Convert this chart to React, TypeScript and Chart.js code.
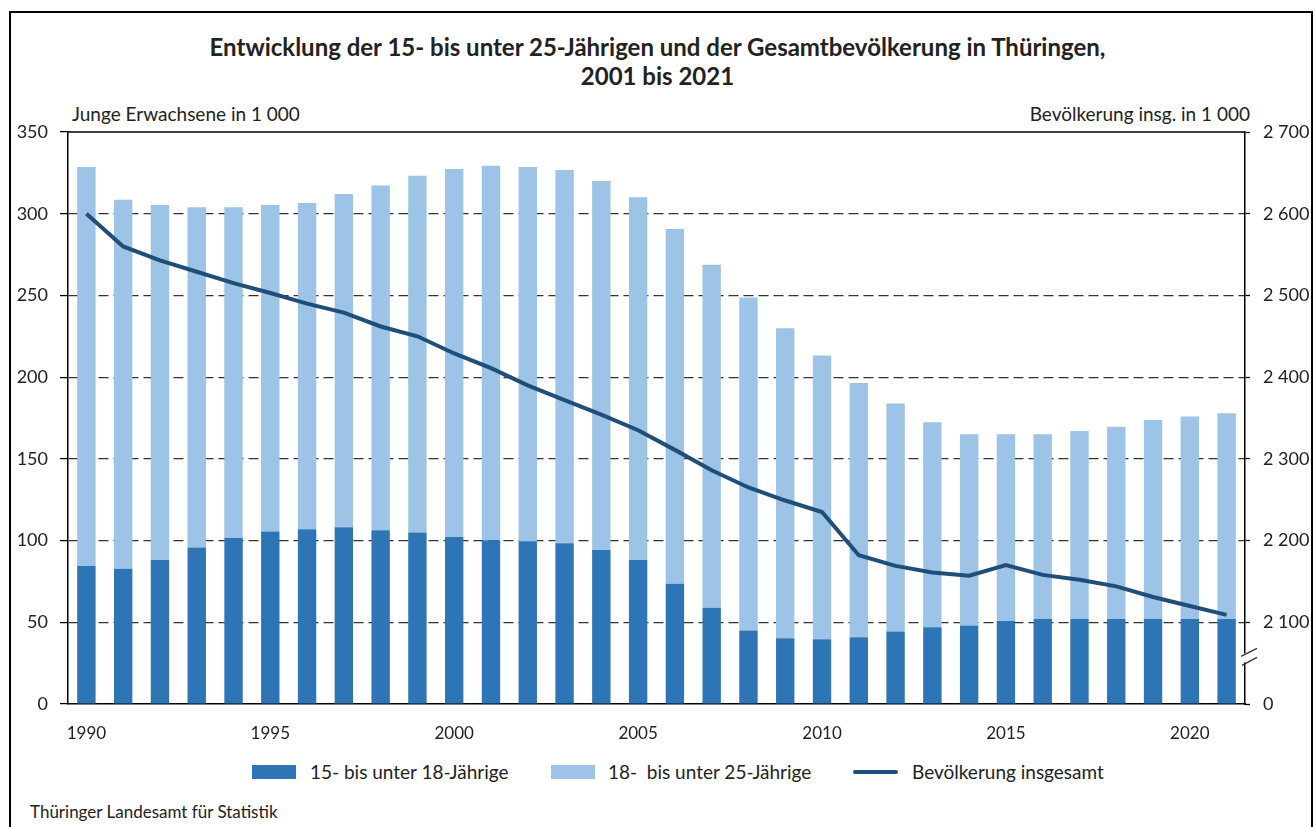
import React, { useEffect, useRef } from "react";
import { Chart, registerables } from "chart.js";

Chart.register(...registerables);

const years = [
  "1990","1991","1992","1993","1994","1995","1996","1997","1998","1999",
  "2000","2001","2002","2003","2004","2005","2006","2007","2008","2009",
  "2010","2011","2012","2013","2014","2015","2016","2017","2018","2019",
  "2020","2021",
];

// 15- bis unter 18-Jährige (in 1 000)
const age15to18 = [
  84.4, 82.8, 88.1, 95.7, 101.6, 105.5, 106.9, 108.1, 106.3, 104.9,
  102.2, 100.2, 99.6, 98.3, 94.2, 88.1, 73.6, 58.9, 44.9, 40.2,
  39.6, 40.8, 44.3, 46.9, 48.1, 50.8, 52.0, 52.0, 52.0, 52.0,
  52.0, 52.0,
];

// 18- bis unter 25-Jährige (in 1 000)
const age18to25 = [
  244.2, 225.8, 217.3, 208.3, 202.4, 199.9, 199.7, 204.0, 210.9, 218.4,
  225.2, 229.2, 229.0, 228.5, 225.8, 221.9, 217.1, 209.8, 203.8, 189.7,
  173.6, 155.6, 139.5, 125.5, 116.9, 114.2, 113.0, 115.0, 117.7, 121.8,
  123.9, 125.9,
];

// Bevölkerung insgesamt (in 1 000)
const population = [
  2600, 2560, 2543, 2529, 2515, 2503, 2490, 2479, 2462, 2450,
  2429, 2411, 2390, 2372, 2354, 2335, 2311, 2286, 2265, 2249,
  2235, 2182, 2169, 2161, 2157, 2170, 2158, 2152, 2144, 2131,
  2120, 2109,
];

const leftTicks = [0, 50, 100, 150, 200, 250, 300, 350];
const rightTicks = [2000, 2100, 2200, 2300, 2400, 2500, 2600, 2700];

const titleLines = [
  "Entwicklung der 15- bis unter 25-Jährigen und der Gesamtbevölkerung in Thüringen,",
  "2001 bis 2021",
];
const leftAxisTitle = "Junge Erwachsene in 1 000";
const rightAxisTitle = "Bevölkerung insg. in 1 000";
const seriesNames = ["15- bis unter 18-Jährige", "18-  bis unter 25-Jährige", "Bevölkerung insgesamt"];
const sourceText = "Thüringer Landesamt für Statistik";

const DARK = "#2e75b6";
const LIGHT = "#9dc3e6";
const NAVY = "#1f4e79";
const FONT = "Lato, 'Open Sans', sans-serif";
const TEXT = "#222";

const fmt = (v: number) => {
  const s = String(v);
  return s.length > 3 ? s.slice(0, s.length - 3) + " " + s.slice(-3) : s;
};

const zeroPad = (s: any) => {
  s.paddingTop = 0;
  s.paddingBottom = 0;
  s.paddingLeft = 0;
  s.paddingRight = 0;
};

const decorPlugin = {
  id: "decor",
  afterDraw(chart: any) {
    const { ctx, chartArea } = chart;
    ctx.save();
    // top solid border line (with left/right tick stubs)
    ctx.strokeStyle = "#000";
    ctx.lineWidth = 1.5;
    ctx.beginPath();
    ctx.moveTo(chartArea.left, chartArea.top);
    ctx.lineTo(chartArea.right, chartArea.top);
    ctx.stroke();
    // axis break marker on right axis
    const x = chartArea.right;
    const yb = chart.scales.y1.getPixelForValue(2057);
    ctx.fillStyle = "#fff";
    ctx.fillRect(x - 2, yb - 4, 4, 9);
    ctx.strokeStyle = "#333";
    ctx.lineWidth = 1.3;
    ctx.beginPath();
    ctx.moveTo(x - 4, yb - 1);
    ctx.lineTo(x + 12, yb - 9);
    ctx.moveTo(x - 3, yb + 8);
    ctx.lineTo(x + 12, yb);
    ctx.stroke();
    ctx.restore();
  },
};

function ChartCanvas() {
  const ref = useRef<HTMLCanvasElement | null>(null);
  useEffect(() => {
    if (!ref.current) return;
    const chart = new Chart(ref.current, {
      type: "bar",
      data: {
        labels: years,
        datasets: [
          {
            type: "bar",
            label: seriesNames[0],
            data: age15to18,
            backgroundColor: DARK,
            yAxisID: "y",
            stack: "s",
            order: 2,
            barPercentage: 0.5,
            categoryPercentage: 1,
          },
          {
            type: "bar",
            label: seriesNames[1],
            data: age18to25,
            backgroundColor: LIGHT,
            yAxisID: "y",
            stack: "s",
            order: 2,
            barPercentage: 0.5,
            categoryPercentage: 1,
          },
          {
            type: "line",
            label: seriesNames[2],
            data: population,
            borderColor: NAVY,
            backgroundColor: NAVY,
            borderWidth: 4,
            pointRadius: 0,
            tension: 0,
            yAxisID: "y1",
            order: 0,
          } as any,
        ],
      },
      options: {
        responsive: false,
        animation: false,
        layout: { padding: { top: 12, bottom: 0, left: 0, right: 0 } },
        plugins: {
          legend: { display: false },
          tooltip: { enabled: false },
          title: { display: false },
        },
        scales: {
          x: {
            stacked: true,
            grid: { display: false, drawTicks: false },
            border: { display: true, color: "#000", width: 1.5 },
            ticks: {
              autoSkip: false,
              maxRotation: 0,
              padding: 19,
              color: TEXT,
              font: { family: FONT, size: 17 },
              callback: (_v: any, i: number) => (Number(years[i]) % 5 === 0 ? years[i] : ""),
            },
            afterFit: (s: any) => {
              s.height = 56;
              zeroPad(s);
            },
          },
          y: {
            position: "left",
            stacked: true,
            min: 0,
            max: 350,
            afterBuildTicks: (s: any) => {
              s.ticks = leftTicks.map((v) => ({ value: v }));
            },
            grid: {
              color: (c: any) =>
                c.tick && (c.tick.value === 0 || c.tick.value === 350) ? "rgba(0,0,0,0)" : "#333",
              lineWidth: 1.2,
              tickLength: 8,
              tickColor: "#000",
              tickWidth: 1.3,
              tickBorderDash: [],
            } as any,
            border: { display: true, color: "#000", width: 1.5, dash: [10, 5] } as any,
            ticks: {
              padding: 12,
              color: TEXT,
              font: { family: FONT, size: 18 },
              callback: (v: any) => fmt(Number(v)),
            },
            afterFit: (s: any) => {
              s.width = 68;
              zeroPad(s);
            },
          },
          y1: {
            position: "right",
            min: 2000,
            max: 2700,
            afterBuildTicks: (s: any) => {
              s.ticks = rightTicks.map((v) => ({ value: v }));
            },
            grid: {
              drawOnChartArea: false,
              tickLength: 5,
              tickColor: "#000",
              tickWidth: 1.3,
              color: "#000",
            },
            border: { display: true, color: "#000", width: 1.5 },
            ticks: {
              padding: 13,
              color: TEXT,
              font: { family: FONT, size: 18 },
              callback: (v: any) => (Number(v) === 2000 ? "0" : fmt(Number(v))),
            },
            afterFit: (s: any) => {
              s.width = 70;
              zeroPad(s);
            },
          },
        },
      },
      plugins: [decorPlugin],
    });
    return () => chart.destroy();
  }, []);
  return (
    <canvas
      ref={ref}
      width={1315}
      height={640}
      style={{ position: "absolute", left: 0, top: 120, width: 1315, height: 640 }}
    />
  );
}

export default function App() {
  useEffect(() => {
    document.body.style.margin = "0";
  }, []);
  const textBase: React.CSSProperties = {
    position: "absolute",
    fontFamily: FONT,
    color: TEXT,
    whiteSpace: "nowrap",
  };
  return (
    <div style={{ position: "relative", width: 1315, height: 827, overflow: "hidden", background: "#fff" }}>
      <div
        style={{
          position: "absolute",
          left: 9,
          top: 11,
          width: 1304,
          height: 900,
          borderTop: "2px solid #000",
          borderLeft: "2px solid #000",
          borderRight: "2px solid #000",
          boxSizing: "border-box",
        }}
      />
      <div
        style={{
          ...textBase,
          left: 0,
          top: 32,
          width: 1315,
          textAlign: "center",
          fontWeight: 700,
          fontSize: 24,
          lineHeight: "29px",
        }}
      >
        {titleLines.map((t, i) => (
          <div key={i}>{t}</div>
        ))}
      </div>
      <div style={{ ...textBase, left: 72, top: 102, fontSize: 19, lineHeight: "24px" }}>{leftAxisTitle}</div>
      <div style={{ ...textBase, right: 65, top: 102, fontSize: 19, lineHeight: "24px" }}>{rightAxisTitle}</div>
      <ChartCanvas />
      {/* legend */}
      <div style={{ position: "absolute", left: 252, top: 765, width: 44, height: 14, background: DARK }} />
      <div style={{ ...textBase, left: 310, top: 760, fontSize: 19, lineHeight: "24px" }}>{seriesNames[0]}</div>
      <div style={{ position: "absolute", left: 551, top: 765, width: 44, height: 14, background: LIGHT }} />
      <div style={{ ...textBase, left: 608, top: 760, fontSize: 19, lineHeight: "24px", whiteSpace: "pre" }}>
        {seriesNames[1]}
      </div>
      <div style={{ position: "absolute", left: 853, top: 770, width: 45, height: 4, background: NAVY, borderRadius: 2 }} />
      <div style={{ ...textBase, left: 912, top: 760, fontSize: 19, lineHeight: "24px" }}>{seriesNames[2]}</div>
      <div style={{ ...textBase, left: 30, top: 801, fontSize: 17, lineHeight: "22px" }}>{sourceText}</div>
    </div>
  );
}
